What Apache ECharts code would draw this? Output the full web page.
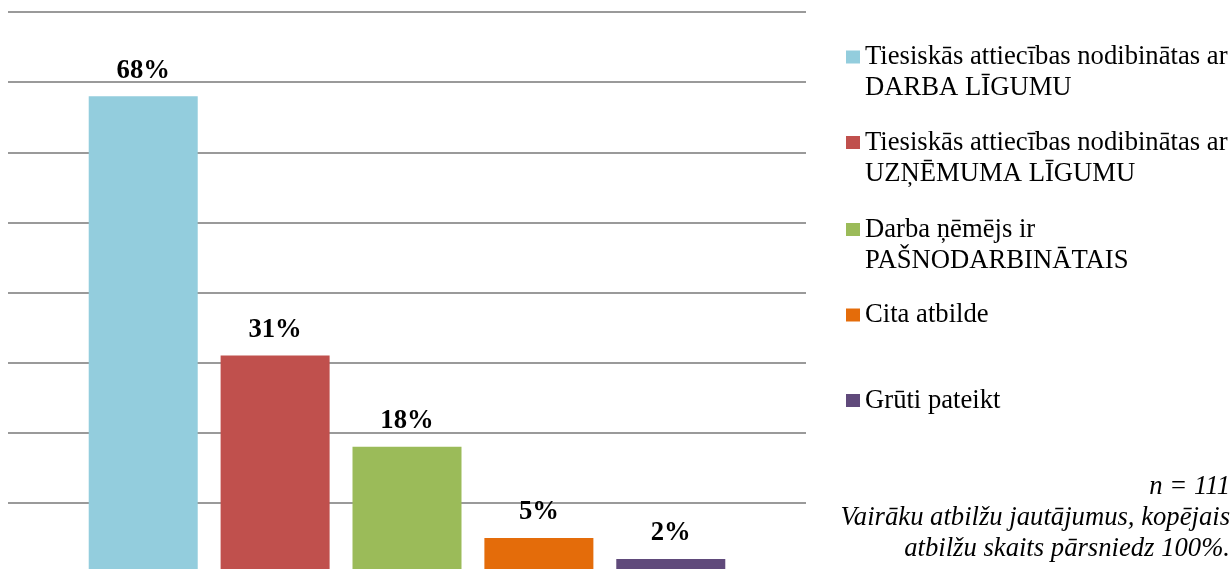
<!DOCTYPE html>
<html>
<head>
<meta charset="utf-8">
<script src="https://cdn.jsdelivr.net/npm/echarts@6/dist/echarts.min.js"></script>
<style>
  html, body { margin: 0; padding: 0; background: #ffffff; }
  #chart { width: 1232px; height: 569px; }
</style>
</head>
<body>
<div id="chart"></div>
<script>
// Answer categories (one bar each) and their shares in percent
const seriesNames = [
  'Tiesiskās attiecības nodibinātas ar DARBA LĪGUMU',
  'Tiesiskās attiecības nodibinātas ar UZŅĒMUMA LĪGUMU',
  'Darba ņēmējs ir PAŠNODARBINĀTAIS',
  'Cita atbilde',
  'Grūti pateikt'
];
const legendLines = [
  ['Tiesiskās attiecības nodibinātas ar', 'DARBA LĪGUMU'],
  ['Tiesiskās attiecības nodibinātas ar', 'UZŅĒMUMA LĪGUMU'],
  ['Darba ņēmējs ir', 'PAŠNODARBINĀTAIS'],
  ['Cita atbilde'],
  ['Grūti pateikt']
];
const values = [68, 31, 18, 5, 2];
const colors = ['#93CDDD', '#C0504D', '#9BBB59', '#E46C0A', '#604A7B'];
const footnote = [
  'n = 111',
  'Vairāku atbilžu jautājumus, kopējais',
  'atbilžu skaits pārsniedz 100%.'
];

const FONT = '"Liberation Serif", "Times New Roman", serif';
const FS = 26.67;
const LH = 31;

// Legend rows: the marker sits beside the first text line of each entry.
// Two-line entries get a blank leading line so the marker lines up with line one.
const legendTops = [10.5, 96, 183, 299.5, 385];
const legends = seriesNames.map((name, i) => {
  const multi = legendLines[i].length > 1;
  return {
    data: [name],
    left: 846,
    top: legendTops[i],
    padding: 0,
    icon: 'rect',
    itemWidth: 14,
    itemHeight: 13,
    itemGap: 0,
    selectedMode: false,
    formatter: () => (multi ? ' \n' : '') + legendLines[i].join('\n'),
    textStyle: {
      fontFamily: FONT,
      fontSize: FS,
      lineHeight: LH,
      color: '#000000'
    }
  };
});

const series = seriesNames.map((name, i) => ({
  name: name,
  type: 'bar',
  data: [values[i]],
  barWidth: 109,
  barGap: '21%',
  itemStyle: { color: colors[i] },
  label: {
    show: true,
    position: 'top',
    distance: 12,
    formatter: '{c}%',
    fontFamily: FONT,
    fontSize: FS,
    fontWeight: 'bold',
    color: '#000000'
  }
}));

// Footnote lines, right-aligned against the right edge
const footCenters = [487, 518, 549];
const footGraphics = footnote.map((t, i) => ({
  type: 'text',
  x: 1230,
  y: footCenters[i],
  style: {
    text: t,
    align: 'right',
    textAlign: 'right',
    verticalAlign: 'middle',
    textVerticalAlign: 'middle',
    font: 'italic ' + FS + 'px ' + FONT,
    fill: '#000000'
  }
}));

const chart = echarts.init(document.getElementById('chart'), null, { renderer: 'canvas' });
chart.setOption({
  animation: false,
  backgroundColor: '#ffffff',
  // the value axis runs a few pixels below the visible area, so the zero line is cut off
  grid: { left: 8, width: 798, top: 12, height: 561, containLabel: false, outerBoundsMode: 'none' },
  xAxis: {
    type: 'category',
    data: [''],
    axisLine: { show: false },
    axisTick: { show: false },
    axisLabel: { show: false }
  },
  yAxis: {
    type: 'value',
    min: 0,
    max: 80,
    interval: 10,
    axisLine: { show: false },
    axisTick: { show: false },
    axisLabel: { show: false },
    splitLine: { lineStyle: { color: '#9a9a9a', width: 2 } }
  },
  legend: legends,
  series: series,
  graphic: footGraphics
});
</script>
</body>
</html>
